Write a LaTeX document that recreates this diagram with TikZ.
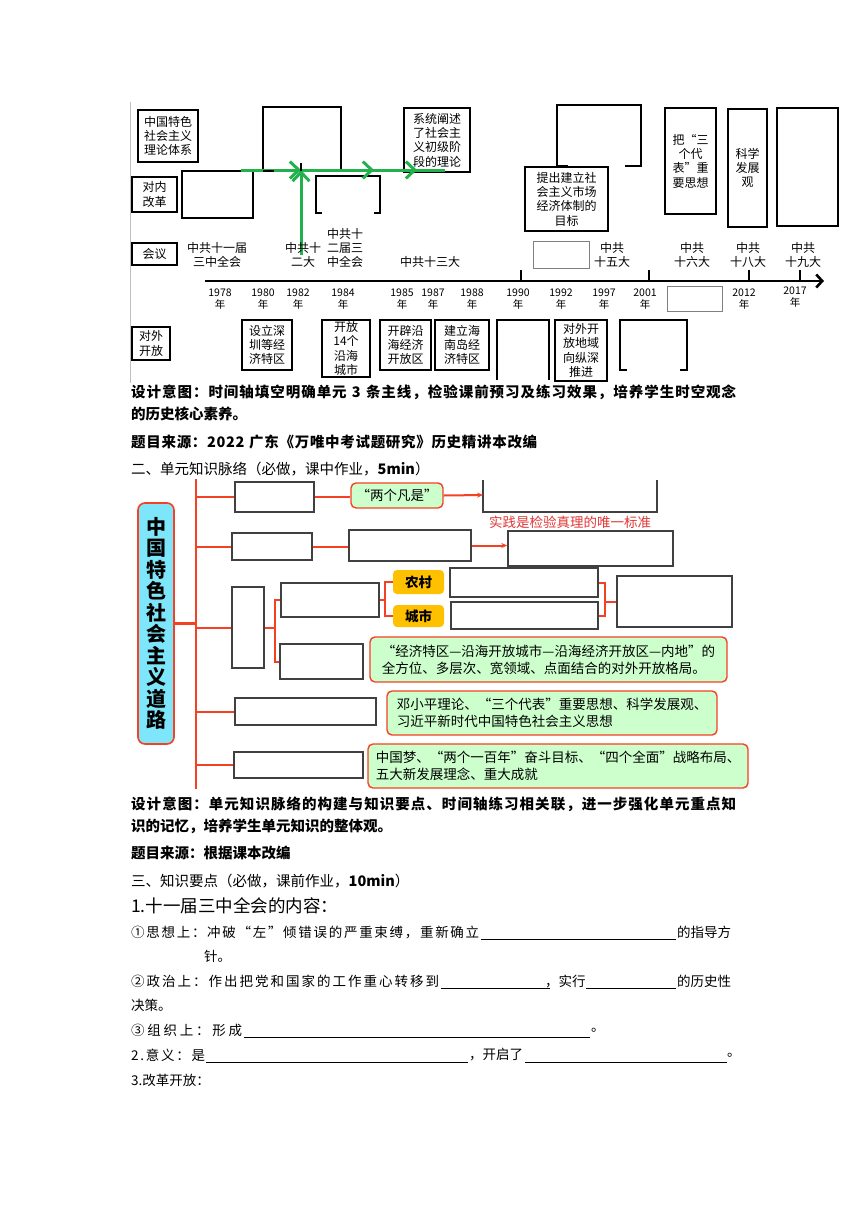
\documentclass[tikz,border=0pt]{standalone}
\usepackage{fontspec}
\setmainfont{Noto Sans CJK SC}
\usetikzlibrary{arrows.meta}
\definecolor{lred}{RGB}{245,65,35}
\definecolor{gfill}{RGB}{204,255,204}
\definecolor{cfill}{RGB}{125,230,250}
\definecolor{ofill}{RGB}{255,192,0}
\definecolor{ggreen}{RGB}{34,177,76}
\definecolor{dgray}{RGB}{64,64,64}
\definecolor{rtext}{RGB}{225,55,55}
\newcommand{\mytl}{\fontsize{12}{14.3}\selectfont}
\newcommand{\myyr}{\fontsize{10.5}{12.5}\selectfont}
\newcommand{\mygf}{\fontsize{13.5}{17}\selectfont}
\newcommand{\myrt}{\fontsize{13.5}{16}\selectfont}
\newcommand{\myhd}{\fontsize{14.5}{16}\selectfont}
\newcommand{\mysm}{\fontsize{13.5}{15}\selectfont}
\newcommand{\mybig}{\fontsize{17.5}{19}\selectfont}
\newcommand{\mybox}[7][]{\node[#1, minimum width={(#5-#3)*1pt}, minimum height={(#6-#4)*1pt}] (#2) at ({(#3+#5)/2},{(#4+#6)/2}) {#7};}
% spread characters of a string evenly: \myspread text\relax inside a box of fixed width
\def\myspread#1{#1\myspreadrest}
\def\myspreadrest#1{\ifx#1\relax\else\hskip0pt plus1fil#1\expandafter\myspreadrest\fi}
\newcommand{\spreadto}[2]{\makebox[#1][s]{\myspread#2\relax}}
\begin{document}
\begin{tikzpicture}[x=1pt,y=-1pt,
 bx/.style={draw=black,line width=1.6pt,fill=white,inner sep=0pt,align=center,font=\mytl},
 lbl/.style={inner sep=0pt,align=center,font=\mytl},
 yr/.style={inner sep=0pt,align=center,font=\myyr},
 ob/.style={draw=black,line width=1.6pt},
 garr/.style={draw=ggreen,line width=3pt},
 gtip/.style={-{Straight Barb[length=9pt,width=17pt]}},
 mb/.style={draw=dgray,line width=1.4pt,fill=white,inner sep=0pt},
 gb/.style={draw=lred,line width=1.4pt,fill=gfill,rounded corners=5pt,inner sep=0pt,align=left,font=\mygf},
 orb/.style={fill=ofill,rounded corners=4pt,inner sep=0pt,font=\bfseries\mygf},
 cb/.style={draw=lred,line width=1.6pt,fill=cfill,rounded corners=7pt,inner sep=0pt,align=center,font=\bfseries\fontsize{20}{21.5}\selectfont},
 rl/.style={draw=lred,line width=2pt},
 rarr/.style={rl,-{Stealth[length=6pt,width=5pt]}},
 txt/.style={anchor=west,inner sep=0pt},
 ul/.style={line width=0.6pt},
]
\useasboundingbox (0,0) rectangle (860,1216);
\fill[white] (0,0) rectangle (860,1216);

% ---------- timeline ----------
\draw[gray!50,line width=0.8pt] (130,102) -- (130,383);
\mybox[bx]{theory}{138}{110}{198}{162}{中国特色\\社会主义\\理论体系}
\mybox[bx]{neige}{132}{177}{177}{212}{对内\\改革}
\mybox[bx]{nb1}{182}{171}{253}{218}{}
\mybox[bx]{nb2}{263}{107}{341}{171}{}
\mybox[bx]{nb3}{404}{108}{470}{172}{系统阐述\\了社会主\\义初级阶\\段的理论}
\draw[ob] (322,213) -- (316,213) -- (316,176) -- (380,176) -- (380,213) -- (374,213);
\draw[ob] (568,166) -- (557,166) -- (557,105) -- (641,105) -- (641,166) -- (625,166);
\mybox[bx]{nb5}{525}{167}{608}{231}{提出建立社\\会主义市场\\经济体制的\\目标}
\mybox[bx]{nb6}{665}{108}{716}{214}{把“三\\个代\\表”重\\要思想}
\mybox[bx]{nb7}{728}{109}{767}{227}{科学\\发展\\观}
\mybox[bx]{nb8}{777}{108}{838}{226}{}
\mybox[bx]{huiyi}{132}{243}{177}{265}{会议}
\mybox[bx,draw=gray,line width=0.8pt]{nb4}{533}{241}{589}{268}{}

% green arrows
\coordinate (gA) at (241,170);
\coordinate (gB) at (301,170);
\coordinate (gC) at (374,170);
\coordinate (gD) at (417,170);
\coordinate (gE) at (445,170);
\coordinate (gV) at (301,255);
\draw[garr] (gA) -- (gE);
\draw[garr,gtip] (gA) -- (gB);
\draw[garr,gtip] (gB) -- (gC);
\draw[garr,gtip] (gC) -- (gD);
\draw[garr,gtip] (gV) -- (gB);
\draw[line width=2pt] (263,171) -- (274,171);
\draw[line width=2pt] (301,163) -- (301,171);

% meetings
\node[lbl] (c11) at (217,255) {中共十一届\\三中全会};
\node[lbl] (c12) at (303,255) {中共十\\二大};
\node[lbl] (c12b) at (345,248) {中共十\\二届三\\中全会};
\node[lbl] (c13) at (430,262) {中共十三大};
\node[lbl] (c15) at (612,255) {中共\\十五大};
\node[lbl] (c16) at (692,255) {中共\\十六大};
\node[lbl] (c18) at (748,255) {中共\\十八大};
\node[lbl] (c19) at (803,255) {中共\\十九大};

% axis
\coordinate (ax0) at (205,281);
\coordinate (ax1) at (824,281);
\draw[line width=2.6pt,-{Straight Barb[length=6pt,width=13pt]}] (ax0) -- (ax1);
\foreach \x in {521,649,749,800} \draw[line width=2.6pt] (\x,270) -- (\x,281);
\foreach \x/\yy in {220/1978,263/1980,298/1982,343/1984,402/1985,433/1987,472/1988,518/1990,561/1992,604/1997,645/2001,744/2012}
  \node[yr] (yr\yy) at (\x,299) {\yy\\年};
\node[yr] (yr2017) at (795,297) {2017\\年};
\mybox[bx,draw=gray,line width=0.8pt]{nb9}{667}{286}{722}{311}{}

% opening row
\mybox[bx]{duiwai}{132}{327}{170}{360}{对外\\开放}
\mybox[bx]{s1}{242}{320}{292}{370}{设立深\\圳等经\\济特区}
\mybox[bx]{s2}{322}{320}{370}{377}{开放\\14个\\沿海\\城市}
\mybox[bx]{s3}{380}{320}{431}{370}{开辟沿\\海经济\\开放区}
\mybox[bx]{s4}{435}{320}{489}{370}{建立海\\南岛经\\济特区}
\draw[ob] (497,380) -- (497,320) -- (549,320) -- (549,380);
\mybox[bx]{s5}{555}{320}{607}{381}{对外开\\放地域\\向纵深\\推进}
\draw[ob] (627,370) -- (620,370) -- (620,320) -- (687,320) -- (687,370) -- (680,370);

% ---------- text 1 ----------
\node[txt,font=\bfseries\myhd] (d1) at (131,392) {\spreadto{605pt}{设计意图：时间轴填空明确单元~3~条主线，检验课前预习及练习效果，培养学生时空观念}};
\node[txt,font=\bfseries\myhd] (d2) at (131,414) {的历史核心素养。};
\node[txt,font=\bfseries\myhd] (d3) at (131,442) {\spreadto{406pt}{题目来源：2022~广东《万唯中考试题研究》历史精讲本改编}};
\node[txt,font=\myhd] (d4) at (131,469) {二、单元知识脉络（必做，课中作业，\textbf{5min}）};

% ---------- mind map ----------
\coordinate (trTop) at (196,479);
\coordinate (trBot) at (196,789);
\draw[rl,line width=2.5pt] (trTop) -- (trBot);
\mybox[cb]{road}{138}{503}{174}{744}{中\\国\\特\\色\\社\\会\\主\\义\\道\\路}
\draw[rl,line width=2.5pt] (road.east) -- (road.east -| trTop);

\mybox[mb]{k1}{235}{482}{314}{512}{}
\mybox[gb]{g1}{351}{483}{443}{508}{“两个凡是”}
\draw[rl] (k1.west -| trTop) -- (k1.west);
\draw[rl] (k1.east) -- (k1.east -| g1.west);
\coordinate (oc1) at (483,495);
\draw[draw=dgray,line width=1.4pt] (483,480) -- (483,512) -- (657,512) -- (657,480);
\draw[rarr] (g1.east) -- (oc1);
\node[inner sep=0pt,text=rtext,font=\myrt] (tr) at (570,522) {实践是检验真理的唯一标准};

\mybox[mb]{k2}{232}{533}{312}{560}{}
\mybox[mb]{k3}{349}{530}{471}{561}{}
\mybox[mb]{k4}{508}{531}{673}{566}{}
\draw[rl] (k2.west -| trTop) -- (k2.west);
\draw[rl] (k2.east) -- (k2.east -| k3.west);
\draw[rarr] (k3.east) -- (k3.east -| k4.west);

\mybox[mb]{k5}{232}{587}{264}{668}{}
\draw[rl] (k5.west -| trTop) -- (k5.west);
\mybox[mb]{k6}{281}{583}{379}{617}{}
\mybox[mb]{k7}{280}{644}{363}{679}{}
\coordinate (br1) at (275,627.5);
\draw[rl] (k5.east) -- (br1);
\draw[rl] (k6.west) -| (br1) |- (k7.west);
\mybox[orb]{nong}{393}{570}{444}{594}{农村}
\mybox[orb]{cheng}{393}{605}{444}{627}{城市}
\coordinate (br2) at (385,600);
\draw[rl] (k6.east) -- (br2);
\draw[rl] (nong.west) -| (br2) |- (cheng.west);
\mybox[mb]{k8}{450}{568}{598}{597}{}
\mybox[mb]{k9}{451}{602}{598}{629}{}
\mybox[mb]{k10}{617}{576}{732}{627}{}
\coordinate (br3) at (605,601.5);
\draw[rl] (k8.east) -| (br3) |- (k9.east);
\draw[rl] (br3) -- (k10.west);
\mybox[gb]{g2}{370}{637}{727}{682}{“经济特区—沿海开放城市—沿海经济开放区—内地”的\\全方位、多层次、宽领域、点面结合的对外开放格局。}

\mybox[mb]{k11}{235}{698}{376}{725}{}
\mybox[gb]{g3}{387}{691}{717}{735}{邓小平理论、“三个代表”重要思想、科学发展观、\\习近平新时代中国特色社会主义思想}
\draw[rl] (k11.west -| trTop) -- (k11.west);

\mybox[mb]{k12}{234}{752}{363}{778}{}
\mybox[gb]{g4}{368}{744}{748}{788}{中国梦、“两个一百年”奋斗目标、“四个全面”战略布局、\\五大新发展理念、重大成就}
\draw[rl] (k12.west -| trTop) -- (k12.west);

% ---------- text 2 ----------
\node[txt,font=\bfseries\myhd] (e1) at (131,804) {\spreadto{605pt}{设计意图：单元知识脉络的构建与知识要点、时间轴练习相关联，进一步强化单元重点知}};
\node[txt,font=\bfseries\myhd] (e2) at (131,826) {识的记忆，培养学生单元知识的整体观。};
\node[txt,font=\bfseries\myhd] (e3) at (131,853) {题目来源：根据课本改编};
\node[txt,font=\myhd] (e4) at (131,881) {三、知识要点（必做，课前作业，\textbf{10min}）};

\node[txt,font=\mybig] (f1) at (131,906) {\spreadto{204pt}{1.十一届三中全会的内容：}};
\node[txt,font=\mysm] (f2a) at (131,932) {\spreadto{348pt}{①思想上：冲破“左”倾错误的严重束缚，重新确立}};
\draw[ul] (481,939) -- (676,939);
\node[txt,font=\mysm] (f2b) at (677,932) {的指导方};
\node[txt,font=\mysm] (f3) at (204,956) {针。};
\node[txt,font=\mysm] (f4a) at (131,981) {\spreadto{308pt}{②政治上：作出把党和国家的工作重心转移到}};
\draw[ul] (441,988) -- (550,988);
\node[txt,font=\mysm] (f4b) at (545,981) {，实行};
\draw[ul] (586,988) -- (676,988);
\node[txt,font=\mysm] (f4c) at (677,981) {的历史性};
\node[txt,font=\mysm] (f5) at (131,1005) {决策。};
\node[txt,font=\mysm] (f6a) at (131,1030) {\spreadto{111pt}{③组织上：形成}};
\draw[ul] (244,1037) -- (590,1037);
\node[txt,font=\mysm] (f6b) at (591,1030) {。};
\node[txt,font=\mysm] (f7a) at (131,1055) {\spreadto{74pt}{2.意义：是}};
\draw[ul] (206,1062) -- (468,1062);
\node[txt,font=\mysm] (f7b) at (469,1055) {，开启了};
\draw[ul] (525,1062) -- (727,1062);
\node[txt,font=\mysm] (f7c) at (727,1055) {。};
\node[txt,font=\mysm] (f8) at (131,1080) {\spreadto{73pt}{3.改革开放：}};
\end{tikzpicture}
\end{document}
